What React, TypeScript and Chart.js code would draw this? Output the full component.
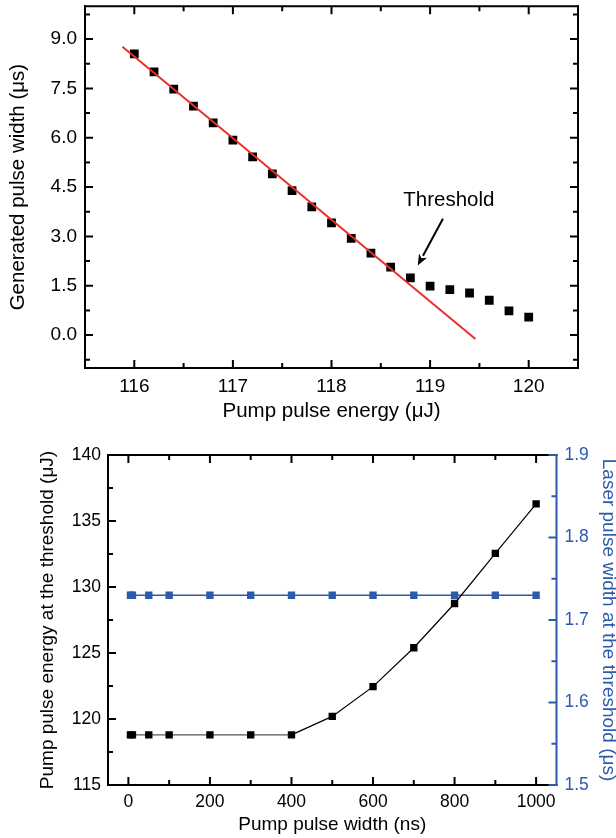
import React, { useEffect, useRef } from 'react';
import { Chart, registerables } from 'chart.js';

Chart.register(...registerables);

const FONT = "'Liberation Sans', Arial, Helvetica, sans-serif";
const BLUE = '#2B5BAA';
const RED = '#E8302A';

// ---------- Top chart data ----------
const energyX = [116, 116.2, 116.4, 116.6, 116.8, 117, 117.2, 117.4, 117.6, 117.8, 118, 118.2, 118.4, 118.6, 118.8, 119, 119.2, 119.4, 119.6, 119.8, 120];
const pulseWidth = [8.55, 8.0, 7.48, 6.96, 6.45, 5.93, 5.42, 4.9, 4.39, 3.9, 3.41, 2.94, 2.49, 2.07, 1.74, 1.49, 1.38, 1.28, 1.06, 0.74, 0.55];
const fitX = [115.88, 119.46];
const fitY = [8.77, -0.12];
const topXTicks = [116, 117, 118, 119, 120];
const topXMinor = [116.5, 117.5, 118.5, 119.5];
const topYTicks = [0, 1.5, 3, 4.5, 6, 7.5, 9];
const topYMinor = [-0.75, 0.75, 2.25, 3.75, 5.25, 6.75, 8.25, 9.75];
const thresholdText = 'Threshold';
const thresholdLabelAt = { x: 119.19, y: 4.09 };
const arrowFrom = { x: 119.13, y: 3.54 };
const arrowTo = { x: 118.875, y: 2.12 };

// ---------- Bottom chart data ----------
const pumpWidth = [5, 10, 50, 100, 200, 300, 400, 500, 600, 700, 800, 900, 1000];
const thresholdEnergy = [118.8, 118.8, 118.8, 118.8, 118.8, 118.8, 118.8, 120.2, 122.45, 125.4, 128.75, 132.55, 136.3];
const laserWidth = [1.73, 1.73, 1.73, 1.73, 1.73, 1.73, 1.73, 1.73, 1.73, 1.73, 1.73, 1.73, 1.73];
const botXTicks = [0, 200, 400, 600, 800, 1000];
const botXMinor = [100, 300, 500, 700, 900];
const botYTicks = [115, 120, 125, 130, 135, 140];
const botYMinor = [117.5, 122.5, 127.5, 132.5, 137.5];
const botY2Ticks = [1.5, 1.6, 1.7, 1.8, 1.9];
const botY2Minor = [1.55, 1.65, 1.75, 1.85];

type Side = { scaleId: string; major: number[]; minor: number[]; color: string };

function fixedAxis(size: number, horizontal: boolean) {
  return (scale: any) => {
    if (horizontal) scale.height = size;
    else scale.width = size;
    scale.paddingTop = 0;
    scale.paddingBottom = 0;
    scale.paddingLeft = 0;
    scale.paddingRight = 0;
  };
}

function setTicks(values: number[]) {
  return (scale: any) => {
    scale.ticks = values.map((v) => ({ value: v }));
  };
}

function framePlugin(spec: { top: Side; bottom: Side; left: Side; right: Side }) {
  return {
    id: 'frameTicks',
    afterDatasetsDraw(chart: any) {
      const { ctx, chartArea: a, scales } = chart;
      ctx.save();
      ctx.lineWidth = 2;
      ctx.lineCap = 'butt';
      const MAJ = 8;
      const MIN = 5;
      const horiz = (side: Side, y: number, dir: number) => {
        const s = scales[side.scaleId];
        ctx.strokeStyle = side.color;
        ctx.beginPath();
        ctx.moveTo(a.left - 1, y);
        ctx.lineTo(a.right + 1, y);
        side.major.forEach((v) => {
          const px = s.getPixelForValue(v);
          ctx.moveTo(px, y);
          ctx.lineTo(px, y + dir * MAJ);
        });
        side.minor.forEach((v) => {
          const px = s.getPixelForValue(v);
          ctx.moveTo(px, y);
          ctx.lineTo(px, y + dir * MIN);
        });
        ctx.stroke();
      };
      const vert = (side: Side, x: number, dir: number) => {
        const s = scales[side.scaleId];
        ctx.strokeStyle = side.color;
        ctx.beginPath();
        ctx.moveTo(x, a.top - 1);
        ctx.lineTo(x, a.bottom + 1);
        side.major.forEach((v) => {
          const py = s.getPixelForValue(v);
          ctx.moveTo(x, py);
          ctx.lineTo(x + dir * MAJ, py);
        });
        side.minor.forEach((v) => {
          const py = s.getPixelForValue(v);
          ctx.moveTo(x, py);
          ctx.lineTo(x + dir * MIN, py);
        });
        ctx.stroke();
      };
      horiz(spec.top, a.top, 1);
      horiz(spec.bottom, a.bottom, -1);
      vert(spec.left, a.left, 1);
      vert(spec.right, a.right, -1);
      ctx.restore();
    },
  };
}

const thresholdPlugin = {
  id: 'thresholdNote',
  afterDatasetsDraw(chart: any) {
    const { ctx, scales } = chart;
    const sx = scales.x;
    const sy = scales.y;
    ctx.save();
    ctx.fillStyle = '#000';
    ctx.font = `20.5px ${FONT}`;
    ctx.textAlign = 'center';
    ctx.textBaseline = 'middle';
    ctx.fillText(thresholdText, sx.getPixelForValue(thresholdLabelAt.x), sy.getPixelForValue(thresholdLabelAt.y));
    const x1 = sx.getPixelForValue(arrowFrom.x);
    const y1 = sy.getPixelForValue(arrowFrom.y);
    const x2 = sx.getPixelForValue(arrowTo.x);
    const y2 = sy.getPixelForValue(arrowTo.y);
    const ang = Math.atan2(y2 - y1, x2 - x1);
    const headLen = 11;
    const headW = 4.5;
    const bx = x2 - headLen * Math.cos(ang);
    const by = y2 - headLen * Math.sin(ang);
    ctx.strokeStyle = '#000';
    ctx.lineWidth = 2;
    ctx.beginPath();
    ctx.moveTo(x1, y1);
    ctx.lineTo(bx, by);
    ctx.stroke();
    ctx.beginPath();
    ctx.moveTo(x2, y2);
    ctx.lineTo(bx + headW * Math.sin(ang), by - headW * Math.cos(ang));
    ctx.lineTo(x2 - (headLen - 3) * Math.cos(ang), y2 - (headLen - 3) * Math.sin(ang));
    ctx.lineTo(bx - headW * Math.sin(ang), by + headW * Math.cos(ang));
    ctx.closePath();
    ctx.fill();
    ctx.restore();
  },
};

const noGrid = { display: false, drawTicks: false, tickLength: 0 };

function TopChart() {
  const ref = useRef<HTMLCanvasElement | null>(null);
  useEffect(() => {
    if (!ref.current) return;
    const chart = new Chart(ref.current, {
      type: 'scatter',
      data: {
        datasets: [
          {
            type: 'line',
            data: fitX.map((x, i) => ({ x, y: fitY[i] })),
            borderColor: RED,
            borderWidth: 2,
            pointRadius: 0,
            showLine: true,
            fill: false,
            order: 0,
          } as any,
          {
            data: energyX.map((x, i) => ({ x, y: pulseWidth[i] })),
            pointStyle: 'rect',
            pointRadius: 6.2,
            backgroundColor: '#000',
            borderColor: '#000',
            borderWidth: 0,
            showLine: false,
            order: 1,
          } as any,
        ],
      },
      options: {
        responsive: false,
        animation: false,
        layout: { padding: { left: 0, top: 5, right: 38, bottom: 0 } },
        plugins: { legend: { display: false }, tooltip: { enabled: false } },
        scales: {
          x: {
            type: 'linear',
            position: 'bottom',
            min: 115.5,
            max: 120.5,
            afterBuildTicks: setTicks(topXTicks),
            afterFit: fixedAxis(62, true),
            grid: noGrid,
            border: { display: false },
            ticks: { padding: 7, color: '#000', font: { size: 19, family: FONT }, callback: (v: any) => String(v), maxRotation: 0 },
            title: { display: true, text: 'Pump pulse energy (μJ)', color: '#000', font: { size: 20.5, family: FONT, lineHeight: 1 }, padding: { top: 0, bottom: 8 } },
          },
          y: {
            type: 'linear',
            position: 'left',
            min: -1,
            max: 10,
            afterBuildTicks: setTicks(topYTicks),
            afterFit: fixedAxis(85, false),
            grid: noGrid,
            border: { display: false },
            ticks: { padding: 8, color: '#000', font: { size: 19, family: FONT }, callback: (v: any) => Number(v).toFixed(1) },
            title: { display: true, text: 'Generated pulse width (μs)', color: '#000', font: { size: 20.5, family: FONT, lineHeight: 1 }, padding: { top: 8, bottom: 0 } },
          },
        },
      } as any,
      plugins: [
        framePlugin({
          top: { scaleId: 'x', major: topXTicks, minor: topXMinor, color: '#000' },
          bottom: { scaleId: 'x', major: topXTicks, minor: topXMinor, color: '#000' },
          left: { scaleId: 'y', major: topYTicks, minor: topYMinor, color: '#000' },
          right: { scaleId: 'y', major: topYTicks, minor: topYMinor, color: '#000' },
        }),
        thresholdPlugin,
      ],
    });
    return () => chart.destroy();
  }, []);
  return <canvas ref={ref} width={616} height={430} style={{ position: 'absolute', left: 0, top: 0, display: 'block' }} />;
}

function BottomChart() {
  const ref = useRef<HTMLCanvasElement | null>(null);
  useEffect(() => {
    if (!ref.current) return;
    const chart = new Chart(ref.current, {
      type: 'line',
      data: {
        datasets: [
          {
            data: pumpWidth.map((x, i) => ({ x, y: thresholdEnergy[i] })),
            yAxisID: 'y',
            borderColor: '#000',
            borderWidth: 1.2,
            segment: {
              borderColor: (c: any) => (c.p0.parsed.y === c.p1.parsed.y ? '#555' : '#000'),
            },
            pointStyle: 'rect',
            pointRadius: 5.2,
            backgroundColor: '#000',
            pointBorderWidth: 0,
            fill: false,
            tension: 0,
          } as any,
          {
            data: pumpWidth.map((x, i) => ({ x, y: laserWidth[i] })),
            yAxisID: 'y2',
            borderColor: BLUE,
            borderWidth: 1.5,
            pointStyle: 'rect',
            pointRadius: 5.2,
            backgroundColor: BLUE,
            pointBorderWidth: 0,
            fill: false,
            tension: 0,
          } as any,
        ],
      },
      options: {
        responsive: false,
        animation: false,
        layout: { padding: { left: 0, top: 25, right: 0, bottom: 0 } },
        plugins: { legend: { display: false }, tooltip: { enabled: false } },
        scales: {
          x: {
            type: 'linear',
            position: 'bottom',
            min: -50,
            max: 1050,
            afterBuildTicks: setTicks(botXTicks),
            afterFit: fixedAxis(53, true),
            grid: noGrid,
            border: { display: false },
            ticks: { padding: 7, color: '#000', font: { size: 17.5, family: FONT }, callback: (v: any) => String(v), maxRotation: 0 },
            title: { display: true, text: 'Pump pulse width (ns)', color: '#000', font: { size: 19, family: FONT, lineHeight: 1 }, padding: { top: 0, bottom: 3.5 } },
          },
          y: {
            type: 'linear',
            position: 'left',
            min: 115,
            max: 140,
            afterBuildTicks: setTicks(botYTicks),
            afterFit: fixedAxis(108, false),
            grid: noGrid,
            border: { display: false },
            ticks: { padding: 7, color: '#000', font: { size: 17.5, family: FONT }, callback: (v: any) => String(v) },
            title: { display: true, text: 'Pump pulse energy at the threshold (μJ)', color: '#000', font: { size: 19, family: FONT, lineHeight: 1 }, padding: { top: 38.5, bottom: 0 } },
          },
          y2: {
            type: 'linear',
            position: 'right',
            min: 1.5,
            max: 1.9,
            afterBuildTicks: setTicks(botY2Ticks),
            afterFit: fixedAxis(59.5, false),
            grid: noGrid,
            border: { display: false },
            ticks: { padding: 8, color: BLUE, font: { size: 17.5, family: FONT }, callback: (v: any) => Number(v).toFixed(1) },
            title: { display: true, text: 'Laser pulse width at the threshold (μs)', color: BLUE, font: { size: 19, family: FONT, lineHeight: 1 }, padding: { top: -1.5, bottom: 0 } },
          },
        },
      } as any,
      plugins: [
        framePlugin({
          top: { scaleId: 'x', major: botXTicks, minor: botXMinor, color: '#000' },
          bottom: { scaleId: 'x', major: botXTicks, minor: botXMinor, color: '#000' },
          left: { scaleId: 'y', major: botYTicks, minor: botYMinor, color: '#000' },
          right: { scaleId: 'y2', major: botY2Ticks, minor: botY2Minor, color: BLUE },
        }),
      ],
    });
    return () => chart.destroy();
  }, []);
  return <canvas ref={ref} width={616} height={408} style={{ position: 'absolute', left: 0, top: 430, display: 'block' }} />;
}

export default function App() {
  return (
    <div style={{ position: 'absolute', left: 0, top: 0, width: 616, height: 838, background: '#fff', overflow: 'hidden' }}>
      <TopChart />
      <BottomChart />
    </div>
  );
}
